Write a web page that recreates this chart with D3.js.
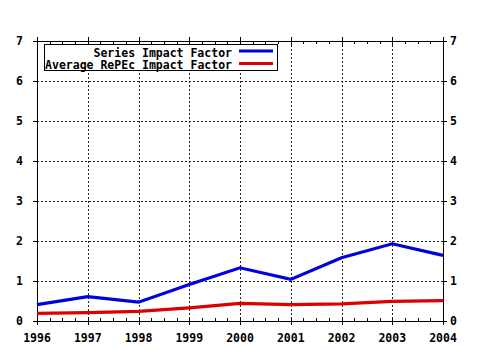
<!DOCTYPE html>
<html><head><meta charset="utf-8">
<script src="https://cdn.jsdelivr.net/npm/d3@7"></script>
<style>
html,body{margin:0;padding:0;background:#fff;}
svg text{font-family:"DejaVu Sans Mono",monospace;font-weight:bold;font-size:11.5px;fill:#000;}
</style></head><body>
<svg id="c" width="480" height="350"></svg>
<script>
const years = [1996, 1997, 1998, 1999, 2000, 2001, 2002, 2003, 2004];
const seriesIF = [0.41, 0.61, 0.47, 0.91, 1.33, 1.04, 1.58, 1.93, 1.64];
const repecIF = [0.19, 0.21, 0.24, 0.33, 0.44, 0.41, 0.43, 0.49, 0.51];
const yTicks = [0, 1, 2, 3, 4, 5, 6, 7];
const legendLabels = ["Series Impact Factor", "Average RePEc Impact Factor"];
const colors = ["#0000dd", "#dd0000"];

const svg = d3.select("#c");
const L = 37, R = 443, T = 41, B = 321;
const x = d3.scaleLinear().domain([1996, 2004]).range([L, R]);
const y = d3.scaleLinear().domain([0, 7]).range([B, T]);

const g = svg.append("g").attr("shape-rendering", "crispEdges");
// grid
g.selectAll(".hg").data(yTicks.filter(d => d > 0 && d < 7)).enter().append("line")
  .attr("x1", L).attr("x2", R).attr("y1", d => Math.round(y(d)) + 0.5).attr("y2", d => Math.round(y(d)) + 0.5)
  .attr("stroke", "#222").attr("stroke-dasharray", "2,2");
g.selectAll(".vg").data(years.slice(1, -1)).enter().append("line")
  .attr("y1", T).attr("y2", B).attr("x1", d => Math.round(x(d)) + 0.5).attr("x2", d => Math.round(x(d)) + 0.5)
  .attr("stroke", "#222").attr("stroke-dasharray", "2,2");

// minor ticks on top & bottom
const minor = [];
for (let i = 0; i < years.length - 1; i++) for (let k = 1; k < 4; k++) minor.push(years[i] + k / 4);
minor.forEach(v => {
  const px = Math.round(x(v)) + 0.5;
  g.append("line").attr("x1", px).attr("x2", px).attr("y1", B).attr("y2", B - 3).attr("stroke", "#000");
  g.append("line").attr("x1", px).attr("x2", px).attr("y1", T).attr("y2", T + 3).attr("stroke", "#000");
});
years.forEach(v => {
  const px = Math.round(x(v)) + 0.5;
  g.append("line").attr("x1", px).attr("x2", px).attr("y1", B - 4).attr("y2", B + 4).attr("stroke", "#000");
  g.append("line").attr("x1", px).attr("x2", px).attr("y1", T - 4).attr("y2", T + 4).attr("stroke", "#000");
});
yTicks.forEach(v => {
  const py = Math.round(y(v)) + 0.5;
  g.append("line").attr("x1", L - 4).attr("x2", L).attr("y1", py).attr("y2", py).attr("stroke", "#000");
  g.append("line").attr("x1", R).attr("x2", R + 4).attr("y1", py).attr("y2", py).attr("stroke", "#000");
});
// frame
g.append("rect").attr("x", L + 0.5).attr("y", T + 0.5).attr("width", R - L).attr("height", B - T)
  .attr("fill", "none").attr("stroke", "#000").attr("stroke-width", 1.5);

// lines
const line = d3.line().x((d, i) => x(years[i])).y(d => y(d));
[seriesIF, repecIF].forEach((s, i) => {
  svg.append("path").attr("d", line(s)).attr("fill", "none").attr("stroke", colors[i]).attr("stroke-width", 3.2);
});

// axis labels
svg.selectAll(".yl").data(yTicks).enter().append("text")
  .attr("x", 23).attr("y", d => y(d)).attr("dy", "0.36em").attr("text-anchor", "end").text(d => d);
svg.selectAll(".yr").data(yTicks).enter().append("text")
  .attr("x", 450).attr("y", d => y(d)).attr("dy", "0.36em").attr("text-anchor", "start").text(d => d);
svg.selectAll(".xl").data(years).enter().append("text")
  .attr("x", d => x(d)).attr("y", 342).attr("text-anchor", "middle").text(d => d);

// legend
const lg = svg.append("g");
lg.append("rect").attr("x", 44.5).attr("y", 44.5).attr("width", 233).attr("height", 26)
  .attr("fill", "#fff").attr("stroke", "#000").attr("stroke-width", 1.5).attr("shape-rendering", "crispEdges");
legendLabels.forEach((t, i) => {
  lg.append("text").attr("x", 232).attr("y", 56.5 + i * 12.6).attr("text-anchor", "end").text(t);
  lg.append("line").attr("x1", 239).attr("x2", 273).attr("y1", 51 + i * 12.6).attr("y2", 51 + i * 12.6)
    .attr("stroke", colors[i]).attr("stroke-width", 3);
});
</script></body></html>
